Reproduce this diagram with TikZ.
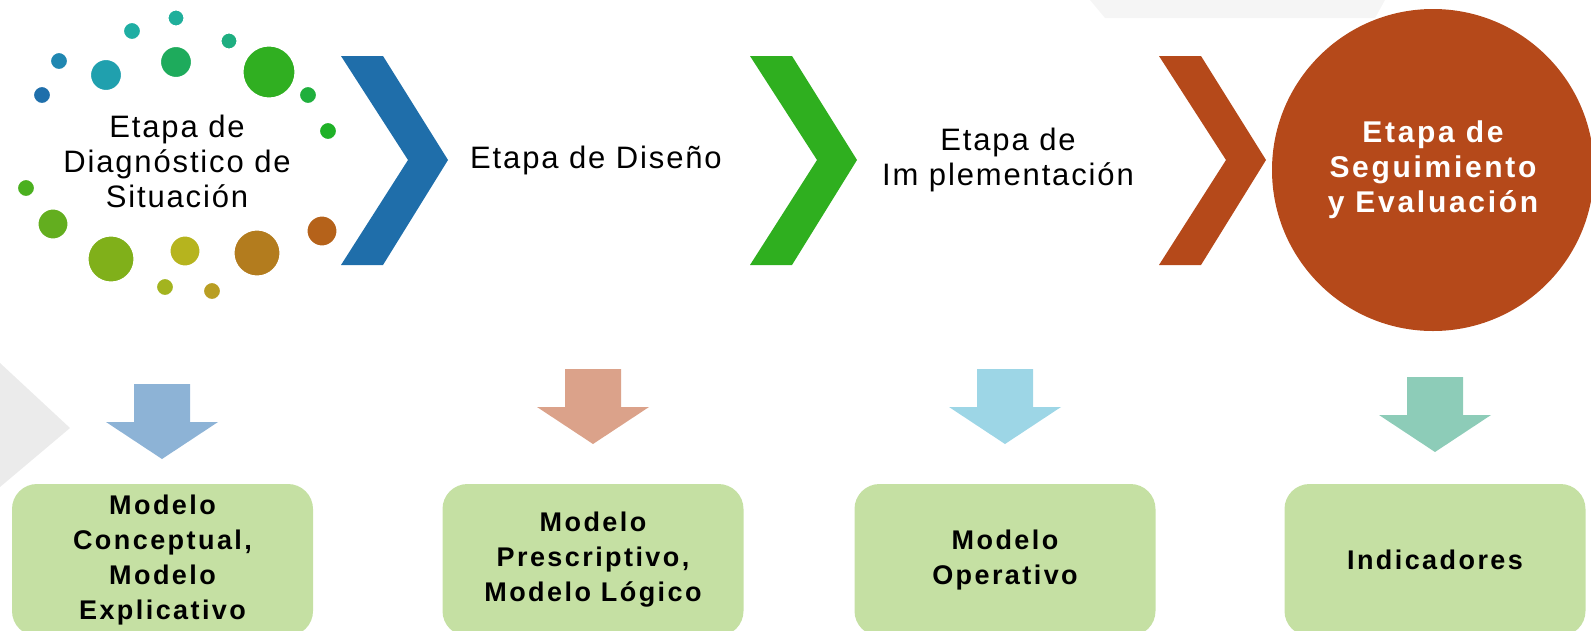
\documentclass[tikz,border=0pt]{standalone}
\usepackage{fontspec}
\setmainfont{Liberation Sans}
\newfontfamily\stagefont[LetterSpace=6]{Liberation Sans}
\newfontfamily\modelfont[LetterSpace=9]{Liberation Sans}
\usepackage{tikz}
\usetikzlibrary{shapes.geometric, positioning}
\definecolor{chevblue}{RGB}{31,110,170}
\definecolor{chevgreen}{RGB}{47,175,31}
\definecolor{chevorange}{RGB}{181,73,26}
\definecolor{arrowblue}{RGB}{141,179,214}
\definecolor{arrowsalmon}{RGB}{219,162,138}
\definecolor{arrowcyan}{RGB}{157,214,230}
\definecolor{arrowteal}{RGB}{141,204,184}
\definecolor{boxgreen}{RGB}{197,224,163}

\begin{document}
\begin{tikzpicture}[x=1pt, y=-1pt,
    stagetext/.style={align=center, font=\stagefont\fontsize{31}{35}\selectfont},
    modelbox/.style={rectangle, rounded corners=25pt, fill=boxgreen, minimum width=301pt,
        minimum height=152pt, align=center, font=\modelfont\bfseries\fontsize{27}{35}\selectfont}]
    \useasboundingbox (0,0) rectangle (1591,630);
    \clip (0,0) rectangle (1591,630);

    % Faint background shapes
    \fill[black!8] (0,363) -- (70,428) -- (0,487) -- cycle;
    \fill[black!4] (1090,0) -- (1385,0) -- (1375,18) -- (1105,18) -- cycle;

    % Dots around the first stage
    \foreach \x/\y/\r/\c in {176/18/9/20AF9B, 132/31/9.5/1FAEA3, 229/41/9/1EAE80, 59/61/9.5/2087B1,
        176/62/16.5/1EAB5C, 106/75/16.5/20A0AE, 269/72/27/30AF21, 42/95/9.5/1F6FAB,
        308/95/9.5/20AF3D, 328/131/9.5/1FB127, 26/188/9.5/4BB01F, 53/224/16/63AE1F,
        111/259/24/80B01A, 185/251/16/B6B41E, 257/253/24/B37C1E, 322/231/16/B5621A,
        165/287/9.5/A3B41F, 212/291/9.5/B99E23} {
        \definecolor{dotcolor}{HTML}{\c}
        \filldraw[fill=dotcolor, draw=white, line width=3pt] (\x,\y) circle[radius=\r];
    }

    % Chevrons between the stages
    \foreach \dx/\col in {0/chevblue, 409/chevgreen, 818/chevorange} {
        \fill[\col] ({341+\dx},56) -- ({383+\dx},56) -- ({448+\dx},160) -- ({383+\dx},265)
            -- ({341+\dx},265) -- ({408+\dx},160) -- cycle;
    }

    % Stages
    \node[stagetext] (diag) at (177,161) {Etapa de\\Diagnóstico de\\Situación};
    \node[stagetext] (diseno) at (596,160) {Etapa de Diseño};
    \node[stagetext] (implem) at (1008,160) {Etapa de\\Im plementación};
    \node[circle, fill=chevorange, minimum size=322pt, inner sep=0pt, text=white, align=center,
        font=\modelfont\bfseries\fontsize{30}{35}\selectfont] (seguim) at (1433,170)
        {Etapa de\\Seguimiento\\y Evaluación};

    % Block arrows down to the models
    \foreach \x/\y/\col in {162/384/arrowblue, 593/369/arrowsalmon, 1005/369/arrowcyan, 1435/377/arrowteal} {
        \fill[\col] ({\x-28},\y) -- ({\x+28},\y) -- ({\x+28},{\y+38}) -- ({\x+56},{\y+38})
            -- (\x,{\y+75}) -- ({\x-56},{\y+38}) -- ({\x-28},{\y+38}) -- cycle;
    }

    % Models
    \node[modelbox] (conceptual) at (162.5,560) {Modelo\\Conceptual,\\Modelo\\Explicativo};
    \node[modelbox] (prescriptivo) at (593,560) {Modelo\\Prescriptivo,\\Modelo Lógico};
    \node[modelbox] (operativo) at (1005,560) {Modelo\\Operativo};
    \node[modelbox] (indicadores) at (1435,560) {Indicadores};
\end{tikzpicture}
\end{document}
